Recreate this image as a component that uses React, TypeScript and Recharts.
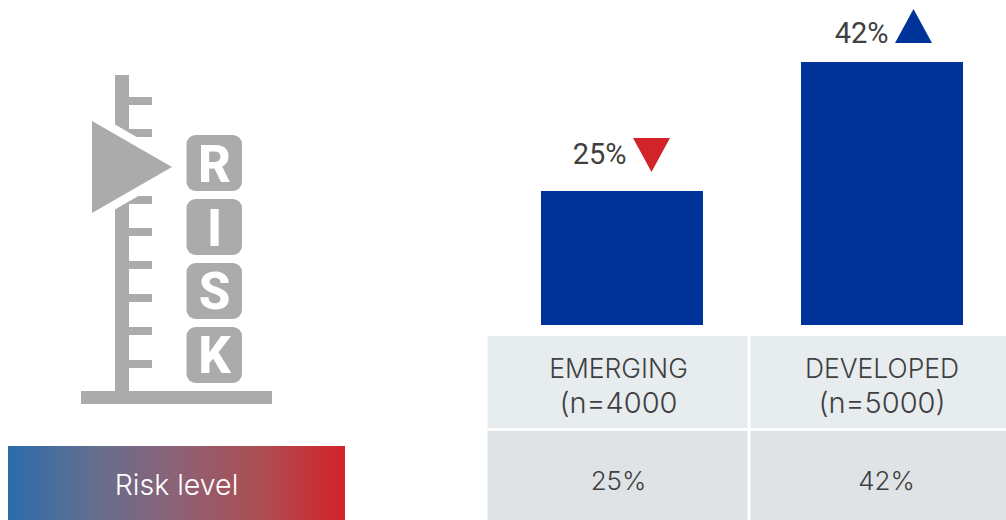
import { Bar, BarChart, LabelList, XAxis, YAxis } from 'recharts';

// bar chart on the right, table and risk icon around it
const categories = ['EMERGING', 'DEVELOPED'];
const sampleLabels = ['(n=4000', '(n=5000)'];
const shares = [25, 42];
const shareLabels = ['25%', '42%'];
const trends = ['down', 'up'];
const riskLetters = ['R', 'I', 'S', 'K'];
const gaugeTicks = [97, 129, 196, 228, 261, 294, 327, 360];

const BLUE = '#003399';
const RED = '#d2232a';
const GREY = '#ababab';
const TEXT = '#404040';

const rows = categories.map((name, i) => ({ name, share: shares[i], trend: trends[i] }));

function TrendLabel(props: any) {
  const { x, y, width, index } = props;
  const cx = x + width / 2;
  const up = trends[index] === 'up';
  const base = y - 19;
  const left = cx + 11 + (up ? 2 : 0);
  const right = left + 37;
  const points = up
    ? `${left},${base} ${right},${base} ${(left + right) / 2},${base - 34}`
    : `${left},${base - 34} ${right},${base - 34} ${(left + right) / 2},${base}`;
  return (
    <g>
      <text
        x={left - 6.5}
        y={up ? y - 19 : y - 27}
        textAnchor="end"
        fontFamily="Roboto"
        fontWeight={400}
        fontSize={29}
        fill={TEXT}
      >
        {shareLabels[index]}
      </text>
      <polygon points={points} fill={up ? BLUE : RED} />
    </g>
  );
}

function RiskIcon() {
  return (
    <svg width={345} height={520} style={{ position: 'absolute', left: 0, top: 0 }}>
      <defs>
        <linearGradient id="riskFade" x1="0" x2="1" y1="0" y2="0">
          <stop offset="0" stopColor="#2a6cab" />
          <stop offset="0.25" stopColor="#636f90" />
          <stop offset="0.5" stopColor="#8c6276" />
          <stop offset="0.75" stopColor="#ad4e52" />
          <stop offset="1" stopColor="#d2232a" />
        </linearGradient>
      </defs>
      <rect x={115} y={75} width={14} height={320} fill={GREY} />
      {gaugeTicks.map((y) => (
        <rect key={y} x={125} y={y} width={27} height={8} fill={GREY} />
      ))}
      <rect x={81} y={391} width={191} height={13} fill={GREY} />
      <polygon points="92,121 92,213 172,167" fill="#fff" stroke="#fff" strokeWidth={17} strokeLinejoin="round" />
      <polygon points="92,121 92,213 172,167" fill={GREY} />
      {riskLetters.map((letter, i) => (
        <g key={letter}>
          <rect x={186.5} y={135 + i * 64} width={55.5} height={56} rx={9} fill={GREY} />
          <text
            x={214.5}
            y={182 + i * 63.7}
            textAnchor="middle"
            fontFamily="Roboto"
            fontWeight={800}
            fontSize={51}
            fill="#fff"
          >
            {letter}
          </text>
        </g>
      ))}
      <rect x={8} y={446} width={337} height={74} fill="url(#riskFade)" />
      <text x={176.5} y={495} textAnchor="middle" fontFamily="Inter" fontWeight={300} fontSize={28.5} fill="#fff">
        Risk level
      </text>
    </svg>
  );
}

function SummaryTable() {
  const cols = [
    { x: 487.5, w: 260, cx: 618.5, valueX: 618.5 },
    { x: 750.5, w: 256, cx: 882, valueX: 886.5 },
  ];
  return (
    <svg width={1006} height={520} style={{ position: 'absolute', left: 0, top: 0 }}>
      {cols.map((c, i) => (
        <g key={categories[i]} fontFamily="Inter" fontWeight={300} fontSize={26} fill={TEXT} textAnchor="middle">
          <rect x={c.x} y={336} width={c.w} height={92} fill="#e7ecee" />
          <rect x={c.x} y={431} width={c.w} height={89} fill="#dfe3e5" />
          <text x={c.cx} y={378} fontSize={26.5}>{categories[i]}</text>
          <text x={c.cx} y={413} fontSize={29}>{sampleLabels[i]}</text>
          <text x={c.valueX} y={490}>{shareLabels[i]}</text>
        </g>
      ))}
    </svg>
  );
}

export default function App() {
  return (
    <div style={{ position: 'absolute', left: 0, top: 0, width: 1006, height: 520, overflow: 'hidden', background: '#fff' }}>
      <RiskIcon />
      <SummaryTable />
      <div style={{ position: 'absolute', left: 0, top: 0 }}>
        <BarChart
          width={1012}
          height={325}
          data={rows}
          margin={{ top: 0, right: 0, bottom: 0, left: 492 }}
          barCategoryGap={49}
        >
          <XAxis dataKey="name" hide />
          <YAxis hide domain={[7.34, 50.17]} allowDataOverflow />
          <Bar dataKey="share" fill={BLUE} isAnimationActive={false}>
            <LabelList dataKey="share" content={TrendLabel} />
          </Bar>
        </BarChart>
      </div>
    </div>
  );
}
